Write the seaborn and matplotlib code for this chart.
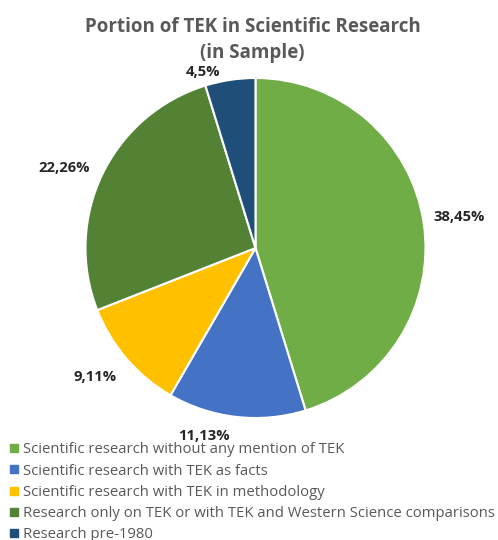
import numpy as np
import matplotlib
matplotlib.use("Agg")
import matplotlib.pyplot as plt
from matplotlib.lines import Line2D
import seaborn as sns

sns.set_theme(style="white")
plt.rcParams['font.family'] = ['Open Sans', 'DejaVu Sans']

# data: count, percent
categories = ["Scientific research without any mention of TEK",
              "Scientific research with TEK as facts",
              "Scientific research with TEK in methodology",
              "Research only on TEK or with TEK and Western Science comparisons",
              "Research pre-1980"]
counts = [38, 11, 9, 22, 4]
percents = [45, 13, 11, 26, 5]
colors = ["#70AD47", "#4472C4", "#FFC000", "#548235", "#1F4E79"]

fig = plt.figure(figsize=(4.98, 5.4), dpi=100)
ax = fig.add_axes([85.5 / 498, 122 / 540, 340 / 498, 340 / 540])

wedges, _ = ax.pie(counts, colors=colors, startangle=90, counterclock=False,
                   wedgeprops=dict(edgecolor="white", linewidth=1.5))
ax.set_xlim(-1, 1)
ax.set_ylim(-1, 1)
ax.set_aspect("equal")

# data labels outside the slices, "count,percent%"
label_r = [1.21, 1.15, 1.21, 1.22, 1.08]
label_shift = [0, -9, -2, 3, 8]
for w, c, p, r, s in zip(wedges, counts, percents, label_r, label_shift):
    ang = np.deg2rad((w.theta1 + w.theta2) / 2 + s)
    ax.text(r * np.cos(ang), r * np.sin(ang), f"{c},{p}%",
            ha="center", va="center", fontsize=10.6, fontweight="bold",
            color="#262626", clip_on=False)

fig.text(0.507, 0.969, "Portion of TEK in Scientific Research\n(in Sample)",
         ha="center", va="top", fontsize=13.5, fontweight="bold",
         color="#595959", linespacing=1.45)

handles = [Line2D([], [], marker="s", linestyle="", markersize=6,
                  markerfacecolor=col, markeredgecolor=col) for col in colors]
fig.legend(handles, categories, loc="upper left", bbox_to_anchor=(0.02, 0.181),
           frameon=False, fontsize=10.7, labelcolor="#595959",
           handlelength=0.6, handletextpad=0.3, labelspacing=0.42,
           borderaxespad=0, borderpad=0)

fig.savefig("out.png", dpi=100)
